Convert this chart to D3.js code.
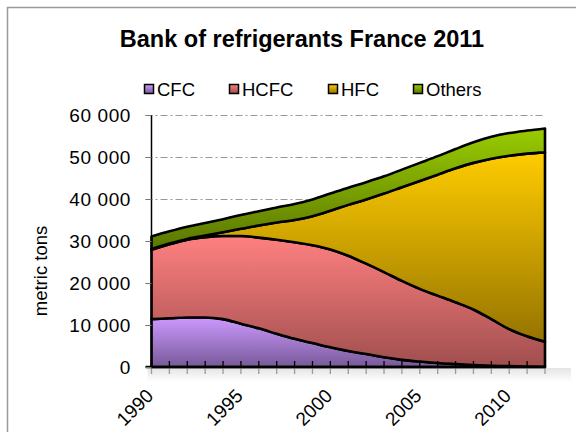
<!DOCTYPE html>
<html>
<head>
<meta charset="utf-8">
<script src="https://cdn.jsdelivr.net/npm/d3@7"></script>
<style>
    body { margin: 0; background: #fff; }
    text { font-family: "Liberation Sans", Arial, sans-serif; }
</style>
</head>
<body>
<svg id="chart" width="576" height="432"></svg>
<script>
let years = [1990,1991,1992,1993,1994,1995,1996,1997,1998,1999,2000,2001,
    2002,2003,2004,2005,2006,2007,2008,2009,2010,2011,2012];
let seriesNames = ["CFC", "HCFC", "HFC", "Others"];
let cfc = [11400,11600,11800,11800,11400,10300,9200,7900,6700,5700,4700,3800,
    3100,2300,1700,1300,950,700,480,300,200,100,50];
let hcfc = [16500,17600,18500,19100,19800,20900,21600,22400,23000,23300,23300,22700,
    21500,20300,18800,17300,16050,14700,13220,11100,8800,7200,5950];
let hfc = [200,200,200,400,900,1700,2900,4100,5300,6900,9200,12100,
    15300,18700,22300,25700,28800,31900,34900,38200,41300,43500,45100];
let others = [3000,2900,2900,3000,3100,3300,3400,3600,3800,4000,4100,4100,
    4100,4100,4200,4300,4400,4600,4900,5200,5400,5500,5700];
let yTicks = [0,10000,20000,30000,40000,50000,60000];
let xLabels = [1990,1995,2000,2005,2010];

let table = years.map(function(y, i) {
    return {year: y, CFC: cfc[i], HCFC: hcfc[i], HFC: hfc[i], Others: others[i]};
});

let svg = d3.select("#chart");
let plotLeft = 151.5, plotRight = 545, plotTop = 115, plotBottom = 367;

let x = d3.scalePoint().domain(years).range([plotLeft, plotRight]);
let y = d3.scaleLinear().domain([0, 60000]).range([plotBottom, plotTop]);

// gradients, light at the top and darker at the bottom
let grads = {
    CFC: ["#cc99ff", "#775a98"],
    HCFC: ["#ff8080", "#a04e4e"],
    HFC: ["#ffcc00", "#957400"],
    Others: ["#99cc00", "#5a7600"]
};
let defs = svg.append("defs");
seriesNames.forEach(function(s) {
    let g = defs.append("linearGradient")
        .attr("id", "grad-" + s)
        .attr("x1", 0).attr("y1", 0).attr("x2", 0).attr("y2", 1);
    g.append("stop").attr("offset", "0%").attr("stop-color", grads[s][0]);
    g.append("stop").attr("offset", "100%").attr("stop-color", grads[s][1]);
});

// outer frame
svg.append("rect")
    .attr("x", 7.5).attr("y", 7.5)
    .attr("width", 620).attr("height", 520)
    .attr("fill", "none")
    .attr("stroke", "#9a9a9a")
    .attr("stroke-width", 1.5);

// title
svg.append("text")
    .attr("x", 302).attr("y", 47)
    .attr("text-anchor", "middle")
    .style("font-size", "23.5px")
    .style("font-weight", "bold")
    .text("Bank of refrigerants France 2011");

// legend
let legendX = [144, 229, 328, 413];
let legend = svg.append("g").attr("class", "legend");
seriesNames.forEach(function(s, i) {
    legend.append("rect")
        .attr("x", legendX[i] + 0.5).attr("y", 84.5)
        .attr("width", 9).attr("height", 9)
        .attr("fill", "url(#grad-" + s + ")")
        .attr("stroke", "#000")
        .attr("stroke-width", 1.5);
    legend.append("text")
        .attr("x", legendX[i] + 13).attr("y", 96)
        .style("font-size", "18.5px")
        .text(s);
});

// gridlines
svg.append("g").attr("class", "grid")
    .selectAll("line")
    .data(yTicks.slice(1))
    .enter().append("line")
    .attr("x1", plotLeft - 6).attr("x2", plotRight)
    .attr("y1", function(d) { return Math.round(y(d)) + 0.5; })
    .attr("y2", function(d) { return Math.round(y(d)) + 0.5; })
    .attr("stroke", "#999")
    .attr("stroke-width", 1)
    .attr("stroke-dasharray", "7,3,2,3");

// y tick labels
svg.append("g").attr("class", "ylabels")
    .selectAll("text")
    .data(yTicks)
    .enter().append("text")
    .attr("x", 131)
    .attr("y", function(d) { return y(d) + 6.5; })
    .attr("text-anchor", "end")
    .style("font-size", "19px")
    .style("letter-spacing", "0.6px")
    .text(function(d) { return d3.format(",")(d).replace(/,/g, " "); });

svg.append("text")
    .attr("transform", "translate(47,271) rotate(-90)")
    .attr("text-anchor", "middle")
    .style("font-size", "18.5px")
    .text("metric tons");

// soft shadow under the category axis
let sh = defs.append("linearGradient")
    .attr("id", "axis-shadow")
    .attr("x1", 0).attr("y1", 0).attr("x2", 0).attr("y2", 1);
sh.append("stop").attr("offset", "0%").attr("stop-color", "#e4e4e4");
sh.append("stop").attr("offset", "100%").attr("stop-color", "#ffffff");
svg.append("rect")
    .attr("x", plotLeft - 4).attr("y", plotBottom + 1)
    .attr("width", plotRight - plotLeft + 30).attr("height", 14)
    .attr("fill", "url(#axis-shadow)");

// stacked areas
let stack = d3.stack().keys(seriesNames);
let layers = stack(table);

let area = d3.area()
    .curve(d3.curveMonotoneX)
    .x(function(d) { return x(d.data.year); })
    .y0(function(d) { return y(d[0]); })
    .y1(function(d) { return y(d[1]); });

svg.append("g").attr("class", "areas")
    .selectAll("path")
    .data(layers)
    .enter().append("path")
    .attr("d", area)
    .attr("fill", function(d) { return "url(#grad-" + d.key + ")"; })
    .attr("stroke", "#000")
    .attr("stroke-width", 2.6)
    .attr("stroke-linejoin", "round");

// x ticks, black above the axis and grey below
let ticks = svg.append("g").attr("class", "xticks");
ticks.selectAll("line.up")
    .data(years)
    .enter().append("line")
    .attr("class", "up")
    .attr("x1", function(d) { return x(d); })
    .attr("x2", function(d) { return x(d); })
    .attr("y1", plotBottom - 6).attr("y2", plotBottom)
    .attr("stroke", "#000").attr("stroke-width", 1.3);
ticks.selectAll("line.down")
    .data(years)
    .enter().append("line")
    .attr("class", "down")
    .attr("x1", function(d) { return x(d); })
    .attr("x2", function(d) { return x(d); })
    .attr("y1", plotBottom).attr("y2", plotBottom + 7)
    .attr("stroke", "#9a9a9a").attr("stroke-width", 1.3);

// axes lines
svg.append("line")
    .attr("x1", plotLeft).attr("x2", plotLeft)
    .attr("y1", plotTop).attr("y2", plotBottom)
    .attr("stroke", "#000").attr("stroke-width", 1.5);
svg.append("line")
    .attr("x1", plotLeft - 6).attr("x2", plotRight + 1)
    .attr("y1", plotBottom).attr("y2", plotBottom)
    .attr("stroke", "#000").attr("stroke-width", 2.5);

// y tick marks
svg.append("g").selectAll("line")
    .data(yTicks)
    .enter().append("line")
    .attr("x1", plotLeft - 6).attr("x2", plotLeft)
    .attr("y1", function(d) { return Math.round(y(d)) + 0.5; })
    .attr("y2", function(d) { return Math.round(y(d)) + 0.5; })
    .attr("stroke", "#777").attr("stroke-width", 1);

// x labels
svg.append("g").attr("class", "xlabels")
    .selectAll("text")
    .data(xLabels)
    .enter().append("text")
    .attr("transform", function(d) {
        return "translate(" + (x(d) + 3) + "," + 397 + ") rotate(-45)";
    })
    .attr("text-anchor", "end")
    .style("font-size", "19px")
    .text(function(d) { return d; });
</script>
</body>
</html>
